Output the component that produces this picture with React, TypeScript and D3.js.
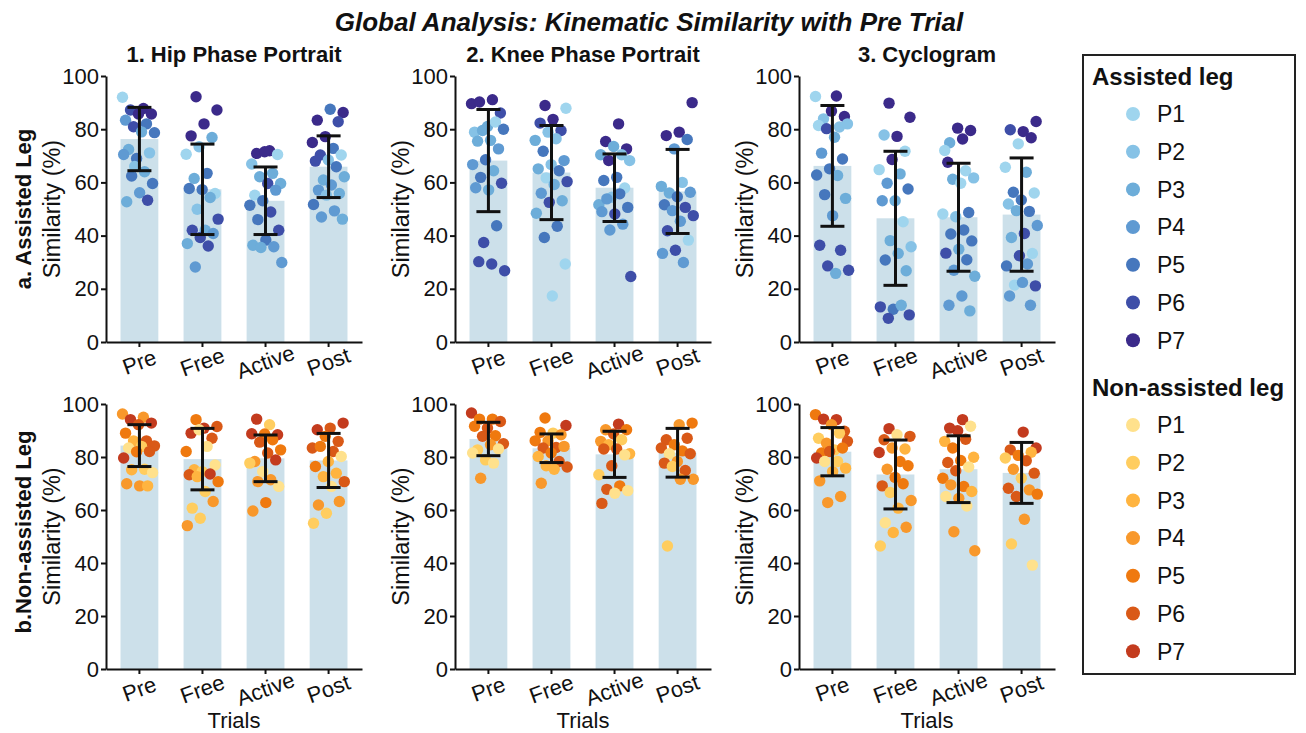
import { useEffect, useRef } from "react";
import * as d3 from "d3";

const title = "Global Analysis: Kinematic Similarity with Pre Trial";
const trials = ["Pre", "Free", "Active", "Post"];
const metrics = ["1. Hip Phase Portrait", "2. Knee Phase Portrait", "3. Cyclogram"];
const legLabels = ["a. Assisted Leg", "b.Non-assisted Leg"];
const legendTitles = ["Assisted leg", "Non-assisted leg"];
const participants = ["P1", "P2", "P3", "P4", "P5", "P6", "P7"];
const yTicks = [0, 20, 40, 60, 80, 100];

const assistedColors = ["#9fd5ee", "#86c2e6", "#6dadd9", "#5f9ad2", "#4677bd", "#3e4ea8", "#3b2a8a"];
const nonAssistedColors = ["#ffe18c", "#ffcd5f", "#ffb440", "#f8982b", "#ef790f", "#d95917", "#c33b1e"];

// mean and SD (error bars) per trial
const hipAssistedMean = [76.3, 57.4, 53.1, 65.9];
const hipAssistedSd = [11.9, 17.0, 12.7, 11.6];
const kneeAssistedMean = [68.2, 63.7, 58.0, 56.6];
const kneeAssistedSd = [19.2, 17.7, 12.7, 15.8];
const cycloAssistedMean = [66.2, 46.5, 46.9, 47.9];
const cycloAssistedSd = [22.7, 25.2, 20.3, 21.3];
const hipNonMean = [84.3, 79.2, 79.5, 78.7];
const hipNonSd = [7.9, 11.6, 8.8, 10.2];
const kneeNonMean = [86.8, 83.3, 81.0, 81.6];
const kneeNonSd = [6.3, 5.4, 8.7, 9.2];
const cycloNonMean = [82.0, 73.4, 75.4, 74.0];
const cycloNonSd = [9.1, 13.0, 12.6, 11.5];

// individual points: [similarity, participant number]
const hipAssistedPoints = [
  [[92, 1], [87.8, 7], [87.2, 6], [85.7, 7], [85.7, 7], [83.4, 4], [82, 5], [80.9, 6], [78.7, 5], [79, 3], [72.4, 3], [71.1, 2], [69, 5], [70.5, 4], [64, 3], [62.4, 5], [59.6, 5], [56.1, 4], [52.7, 3], [53.3, 6], [66, 2]],
  [[92.2, 7], [87.2, 7], [82, 7], [77.5, 7], [76.9, 3], [73.4, 2], [70.6, 1], [63.4, 5], [61.5, 3], [55.8, 1], [57.3, 5], [57.7, 5], [54.3, 3], [49.9, 2], [46.2, 6], [42, 3], [42, 6], [40.8, 4], [39.3, 6], [37, 3], [36.1, 6], [28.2, 4]],
  [[71.9, 7], [70.9, 7], [70.5, 1], [71.5, 7], [66.9, 2], [63.4, 3], [62.1, 3], [59.6, 3], [59.6, 6], [55.2, 1], [57.1, 4], [53.1, 5], [51.4, 5], [48.9, 6], [46, 5], [42, 6], [38.3, 5], [36.4, 3], [35.8, 4], [35.5, 3], [29.9, 4]],
  [[86.3, 7], [87.5, 5], [83.4, 7], [82.8, 6], [77.2, 7], [75, 7], [72.8, 5], [70.3, 6], [70.3, 1], [68.4, 2], [68, 6], [65.9, 5], [60.9, 3], [62.1, 3], [59, 4], [57.1, 4], [55.8, 3], [55.2, 2], [51.7, 5], [49.3, 4], [47, 4], [46.2, 3]],
];
const kneeAssistedPoints = [
  [[89.6, 7], [91.1, 7], [90.2, 7], [86.1, 6], [81, 3], [78.9, 2], [82.7, 1], [79.5, 3], [80, 5], [75.8, 3], [75.5, 3], [72.6, 4], [68.5, 5], [66.7, 4], [64.4, 3], [61.9, 5], [59.7, 6], [57.2, 3], [58, 4], [43.7, 5], [37.4, 6], [26.8, 6], [29.3, 6], [30.2, 6]],
  [[88.9, 7], [87.9, 1], [83.7, 7], [82.3, 6], [79.5, 6], [78.9, 2], [75.8, 3], [76.4, 2], [71.7, 5], [68.2, 4], [66.7, 2], [65.1, 3], [64.4, 5], [61.7, 1], [60.3, 6], [59.2, 3], [55.9, 4], [53.1, 3], [52.5, 6], [48.4, 3], [43.5, 5], [39.3, 5], [29.3, 1], [17.3, 1]],
  [[82, 7], [75.4, 7], [72.6, 7], [73.5, 3], [70.4, 3], [70.4, 2], [68.2, 7], [68.2, 2], [61.9, 5], [60.7, 5], [57.9, 1], [54.4, 2], [51.6, 3], [55.7, 5], [53.8, 4], [50.6, 5], [48.1, 6], [49, 4], [44.3, 4], [42.1, 4], [24.6, 6]],
  [[90, 7], [78.9, 7], [77.6, 7], [76.1, 5], [72.6, 4], [58.5, 3], [60, 2], [56, 3], [56.3, 4], [54.6, 5], [51.6, 5], [50.6, 6], [49.4, 4], [47.5, 6], [45.4, 4], [41.8, 6], [38.3, 1], [34.5, 6], [33.3, 4], [29.9, 4]],
];
const cycloAssistedPoints = [
  [[92.3, 1], [92.5, 7], [83.9, 2], [84.8, 7], [86.8, 7], [81.4, 1], [80.8, 2], [80.2, 6], [82, 2], [77, 3], [71, 4], [68.8, 5], [65.1, 5], [62.8, 5], [62.6, 3], [55.4, 5], [54, 3], [47.5, 4], [36.4, 6], [34.5, 6], [28.6, 6], [27, 6], [25.8, 3]],
  [[89.8, 7], [84.5, 7], [77.3, 7], [77.8, 2], [71.7, 1], [68.6, 7], [64.8, 1], [63.2, 3], [59.7, 4], [57.5, 5], [53.1, 3], [53.1, 4], [45.2, 1], [38.1, 3], [35.8, 2], [33.3, 3], [30.8, 5], [26.8, 3], [12.3, 5], [13.2, 6], [13.8, 3], [8.9, 6], [10.2, 6]],
  [[76.3, 7], [74.9, 3], [79.5, 7], [80.4, 7], [72, 1], [64.4, 1], [61.2, 3], [61.7, 2], [59.7, 1], [67.6, 7], [48.7, 5], [47.1, 2], [48.1, 1], [42.1, 5], [40.6, 5], [38, 5], [34.9, 3], [33.4, 6], [30.9, 5], [27, 4], [24.7, 3], [17.3, 4], [13.8, 4], [11.7, 3]],
  [[82.9, 7], [79.1, 7], [79.8, 6], [76.8, 7], [74.5, 1], [65.7, 1], [63.8, 3], [56.3, 5], [56, 1], [53.4, 5], [51.9, 2], [49.1, 5], [49.4, 3], [43.8, 4], [40.8, 6], [39.3, 3], [33.3, 1], [32.4, 6], [28.6, 5], [29.3, 4], [21.4, 1], [21.1, 6], [22.4, 4], [17.3, 4], [13.8, 4]],
];
const hipNonPoints = [
  [[96.2, 4], [95, 4], [94.1, 7], [92.8, 7], [92.2, 6], [89, 5], [86.1, 6], [86.1, 3], [84.2, 6], [84, 2], [83.4, 1], [82.1, 6], [82, 5], [79.6, 7], [75.4, 2], [75.2, 3], [74.1, 1], [69.1, 4], [69.9, 4], [69.1, 3]],
  [[94.1, 5], [91.5, 6], [90.9, 7], [89, 7], [87.1, 6], [90.3, 1], [82.1, 5], [84, 1], [75.2, 3], [77, 1], [74.5, 2], [73.3, 6], [73.6, 7], [72.6, 3], [70.7, 5], [67, 2], [60.7, 2], [63.2, 4], [56.9, 2], [54.1, 4]],
  [[92.2, 2], [94.3, 7], [88.4, 7], [88.7, 5], [88.8, 7], [86.5, 5], [85.6, 6], [82.7, 5], [81.5, 6], [78.3, 4], [78.9, 7], [74.5, 1], [77.7, 2], [71.4, 4], [70.7, 4], [68.9, 1], [62.8, 5], [59.6, 4]],
  [[92.8, 7], [90.9, 6], [90.3, 7], [85.9, 6], [87.8, 5], [83.4, 6], [82.1, 6], [84, 5], [80.2, 1], [78.3, 3], [76.4, 5], [73.9, 3], [72.6, 3], [70.7, 6], [68.9, 1], [61.9, 4], [63.2, 4], [58.8, 2], [55, 2]],
];
const kneeNonPoints = [
  [[96.6, 7], [94.3, 5], [94.3, 5], [93.4, 6], [90.9, 6], [91.6, 5], [88, 5], [87.8, 6], [85, 6], [84.6, 4], [82.7, 2], [83, 1], [78.9, 2], [81.5, 1], [77.7, 1], [72, 4]],
  [[94.7, 5], [91.9, 7], [89, 2], [89.3, 5], [88.4, 4], [86.1, 4], [86.1, 5], [83.6, 6], [83.4, 6], [84, 4], [81.5, 5], [80.2, 3], [78.3, 6], [76.7, 3], [76.2, 6], [75.4, 3], [70.1, 4]],
  [[92.4, 7], [90.3, 4], [90.3, 5], [88.7, 6], [85.9, 4], [86.5, 2], [84.6, 3], [81.2, 3], [83, 6], [83, 6], [80.8, 1], [76.7, 6], [73.3, 2], [69.1, 5], [67.8, 6], [67.3, 1], [66.3, 1], [62.5, 6]],
  [[92.8, 5], [92.2, 4], [86.5, 6], [87.1, 6], [84.6, 5], [83.4, 6], [82.3, 5], [81.2, 1], [81.2, 6], [78.3, 4], [77.7, 6], [74.9, 6], [76.4, 2], [71.6, 4], [71.6, 4], [46.4, 2]],
];
const cycloNonPoints = [
  [[96, 5], [94.1, 7], [94.3, 7], [89.7, 6], [92.2, 4], [87.1, 2], [89, 2], [85.2, 4], [85.9, 6], [82.7, 2], [81.5, 5], [83.4, 5], [82.1, 6], [79.6, 7], [78.3, 2], [78.3, 1], [75.8, 3], [74.5, 3], [71, 4], [65.1, 4], [62.8, 4]],
  [[90.7, 7], [87.8, 6], [88.4, 1], [86.5, 6], [83, 3], [83.4, 4], [81.7, 7], [78.3, 5], [75.4, 4], [76.7, 5], [72.3, 5], [69.1, 6], [69.9, 5], [66.6, 2], [63.6, 4], [60.7, 3], [55.2, 1], [53.5, 4], [51.5, 3], [46.4, 2]],
  [[94.1, 7], [90.9, 7], [91.6, 1], [89.9, 7], [85.9, 3], [86.7, 6], [83.4, 5], [79.9, 3], [78.7, 5], [77.9, 6], [76.2, 1], [74.8, 6], [72, 5], [68.9, 5], [69.5, 4], [67, 3], [64.4, 4], [65.1, 1], [61.5, 1], [51.8, 4], [44.6, 4]],
  [[83.4, 7], [89.4, 7], [82.7, 6], [81.8, 3], [80.6, 5], [79.6, 2], [78.6, 6], [75.4, 4], [73.9, 6], [72, 2], [68.2, 6], [67.6, 4], [65.1, 6], [66, 5], [56.5, 4], [47.2, 2], [39.2, 1]],
];

const panels = [
  { row: 0, col: 0, mean: hipAssistedMean, sd: hipAssistedSd, points: hipAssistedPoints },
  { row: 0, col: 1, mean: kneeAssistedMean, sd: kneeAssistedSd, points: kneeAssistedPoints },
  { row: 0, col: 2, mean: cycloAssistedMean, sd: cycloAssistedSd, points: cycloAssistedPoints },
  { row: 1, col: 0, mean: hipNonMean, sd: hipNonSd, points: hipNonPoints },
  { row: 1, col: 1, mean: kneeNonMean, sd: kneeNonSd, points: kneeNonPoints },
  { row: 1, col: 2, mean: cycloNonMean, sd: cycloNonSd, points: cycloNonPoints },
];

const FONT = "'Liberation Sans', Arial, Helvetica, sans-serif";
const INK = "#111";

export default function App() {
  const svgRef = useRef<SVGSVGElement>(null);

  useEffect(() => {
    const svg = d3.select(svgRef.current);
    svg.selectAll("*").remove();
    svg.attr("font-family", FONT);

    const colX = [106, 455, 799];
    const rowY = [
      [76, 342],
      [404, 669],
    ];
    const axisW = 256;
    const palettes = [assistedColors, nonAssistedColors];

    svg
      .append("text")
      .attr("x", 649)
      .attr("y", 31)
      .attr("text-anchor", "middle")
      .attr("font-size", 26)
      .attr("font-weight", "bold")
      .attr("font-style", "italic")
      .attr("fill", INK)
      .text(title);

    panels.forEach((p) => {
      const x0 = colX[p.col];
      const [top, bottom] = rowY[p.row];
      const colors = palettes[p.row];
      const x = d3
        .scaleBand<string>()
        .domain(trials)
        .range([x0, x0 + axisW])
        .paddingInner(0.4)
        .paddingOuter(0.23);
      const y = d3.scaleLinear().domain([0, 100]).range([bottom, top]);
      const bw = x.bandwidth();
      const g = svg.append("g");

      g.selectAll("rect")
        .data(trials)
        .join("rect")
        .attr("x", (t) => x(t)!)
        .attr("y", (_, i) => y(p.mean[i]))
        .attr("width", bw)
        .attr("height", (_, i) => bottom - y(p.mean[i]))
        .attr("fill", "#cce0ea");

      p.points.forEach((pts, ti) => {
        const cx = x(trials[ti])! + bw / 2;
        g.append("g")
          .selectAll("circle")
          .data(pts)
          .join("circle")
          .attr("cx", (_, i) => cx + (((i * 0.618034 + ti * 0.31) % 1) - 0.5) * (bw - 4))
          .attr("cy", (d) => y(d[0]))
          .attr("r", 5.7)
          .attr("fill", (d) => colors[d[1] - 1]);
      });

      trials.forEach((t, i) => {
        const cx = x(t)! + bw / 2;
        const hi = y(p.mean[i] + p.sd[i]);
        const lo = y(p.mean[i] - p.sd[i]);
        const eb = g.append("g").attr("stroke", INK).attr("stroke-width", 3);
        eb.append("line").attr("x1", cx).attr("x2", cx).attr("y1", hi).attr("y2", lo);
        eb.append("line").attr("x1", cx - 12).attr("x2", cx + 12).attr("y1", hi).attr("y2", hi);
        eb.append("line").attr("x1", cx - 12).attr("x2", cx + 12).attr("y1", lo).attr("y2", lo);
      });

      const yAxis = g
        .append("g")
        .attr("transform", `translate(${x0},0)`)
        .call(d3.axisLeft(y).tickValues(yTicks).tickSize(5).tickSizeOuter(0).tickPadding(2));
      yAxis.attr("font-family", FONT).attr("font-size", 22);
      yAxis.selectAll("path, line").attr("stroke", INK).attr("stroke-width", 2);
      yAxis.selectAll("text").attr("fill", INK);

      const xAxis = g
        .append("g")
        .attr("transform", `translate(0,${bottom})`)
        .call(d3.axisBottom(x).tickSize(5).tickSizeOuter(0));
      xAxis.attr("font-family", FONT).attr("font-size", 22);
      xAxis.selectAll("path, line").attr("stroke", INK).attr("stroke-width", 2);
      xAxis
        .selectAll("text")
        .attr("fill", INK)
        .attr("y", 0)
        .attr("dy", null)
        .attr("text-anchor", "middle")
        .attr("dominant-baseline", "central")
        .attr("transform", "translate(0,20) rotate(-20)");

      const cy = (top + bottom) / 2;
      svg
        .append("text")
        .attr("transform", `translate(${x0 - 46},${cy}) rotate(-90)`)
        .attr("text-anchor", "middle")
        .attr("font-size", 23.5)
        .attr("fill", INK)
        .text("Similarity (%)");

      if (p.col === 0) {
        svg
          .append("text")
          .attr("transform", `translate(31,${p.row === 0 ? 209 : 532}) rotate(-90)`)
          .attr("text-anchor", "middle")
          .attr("font-size", 22)
          .attr("font-weight", "bold")
          .attr("fill", INK)
          .text(legLabels[p.row]);
      }

      if (p.row === 0) {
        svg
          .append("text")
          .attr("x", x0 + axisW / 2)
          .attr("y", 62)
          .attr("text-anchor", "middle")
          .attr("font-size", 22)
          .attr("font-weight", "bold")
          .attr("fill", INK)
          .text(metrics[p.col]);
      } else {
        svg
          .append("text")
          .attr("x", x0 + axisW / 2)
          .attr("y", 728)
          .attr("text-anchor", "middle")
          .attr("font-size", 22)
          .attr("fill", INK)
          .text("Trials");
      }
    });

    // legend
    const lg = svg.append("g");
    lg.append("rect")
      .attr("x", 1083)
      .attr("y", 55)
      .attr("width", 212)
      .attr("height", 619)
      .attr("fill", "none")
      .attr("stroke", "#222")
      .attr("stroke-width", 2);

    const headerY = [76, 387];
    const firstItemY = [114, 425];
    palettes.forEach((colors, k) => {
      lg.append("text")
        .attr("x", 1092)
        .attr("y", headerY[k] + 9)
        .attr("font-size", 24)
        .attr("font-weight", "bold")
        .attr("fill", INK)
        .text(legendTitles[k]);
      const items = lg
        .append("g")
        .selectAll("g")
        .data(participants)
        .join("g")
        .attr("transform", (_, i) => `translate(0,${firstItemY[k] + i * 37.7})`);
      items.append("circle").attr("cx", 1133).attr("cy", 0).attr("r", 7).attr("fill", (_, i) => colors[i]);
      items
        .append("text")
        .attr("x", 1157)
        .attr("y", 8.3)
        .attr("font-size", 23)
        .attr("fill", INK)
        .text((d) => d);
    });
  }, []);

  return (
    <svg
      ref={svgRef}
      width={1306}
      height={733}
      style={{ position: "absolute", left: 0, top: 0, background: "#fff" }}
    ></svg>
  );
}
